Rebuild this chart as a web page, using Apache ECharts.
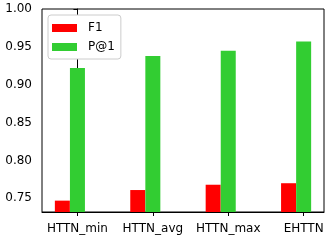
<!DOCTYPE html>
<html>
<head>
<meta charset="utf-8">
<script src="https://cdn.jsdelivr.net/npm/echarts@6/dist/echarts.min.js"></script>
<style>html,body{margin:0;padding:0;background:#fff}#c{width:335px;height:240px}</style>
</head>
<body>
<div id="c"></div>
<script>
const categories = ['HTTN_min', 'HTTN_avg', 'HTTN_max', 'EHTTN'];
const f1 = [0.747, 0.761, 0.768, 0.770];
const p1 = [0.922, 0.938, 0.945, 0.957];
const yTicks = [0.75, 0.80, 0.85, 0.90, 0.95, 1.00];
const seriesNames = ['F1', 'P@1'];

const FONT = 'DejaVu Sans';
const chart = echarts.init(document.getElementById('c'), null, {renderer: 'canvas'});
const catPos = categories.map((c, i) => i);
chart.setOption({
  animation: false,
  backgroundColor: '#fff',
  textStyle: {fontFamily: FONT, color: '#000'},
  grid: {left: 42, right: 11, top: 9, bottom: 28, show: true, borderColor: '#000', borderWidth: 1, backgroundColor: 'transparent'},
  legend: {
    orient: 'vertical', left: 48, top: 15,
    itemWidth: 25, itemHeight: 8, itemGap: 5,
    padding: [6, 6, 5, 4],
    backgroundColor: '#fff', borderColor: '#cccccc', borderWidth: 1, borderRadius: 3,
    icon: 'rect',
    textStyle: {fontFamily: FONT, fontSize: 12, color: '#000', padding: [0, 0, 0, 6], lineHeight: 14},
    data: seriesNames
  },
  xAxis: {
    type: 'value', min: -0.47, max: 3.27,
    splitLine: {show: false},
    axisLine: {show: true, lineStyle: {color: '#000', width: 1}},
    axisTick: {show: true, length: 4, lineStyle: {color: '#000'}, customValues: catPos},
    axisLabel: {customValues: catPos, margin: 11, fontFamily: FONT, fontSize: 12, color: '#000',
      formatter: v => categories[Math.round(v)]}
  },
  yAxis: {
    type: 'value', min: 0.732, max: 1.0,
    splitLine: {show: false},
    axisLine: {show: true, lineStyle: {color: '#000', width: 1}},
    axisTick: {show: true, length: 4, lineStyle: {color: '#000'}, customValues: yTicks},
    axisLabel: {customValues: yTicks, margin: 10, fontFamily: FONT, fontSize: 12, color: '#000',
      formatter: v => v.toFixed(2)}
  },
  series: [
    {name: seriesNames[0], type: 'bar', barWidth: 15, barGap: '-100%',
     itemStyle: {color: '#ff0000'}, data: f1.map((v, i) => [catPos[i] - 0.2, v])},
    {name: seriesNames[1], type: 'bar', barWidth: 15, barGap: '-100%',
     itemStyle: {color: '#32cd32'}, data: p1.map((v, i) => [catPos[i], v])}
  ]
});
</script>
</body>
</html>
